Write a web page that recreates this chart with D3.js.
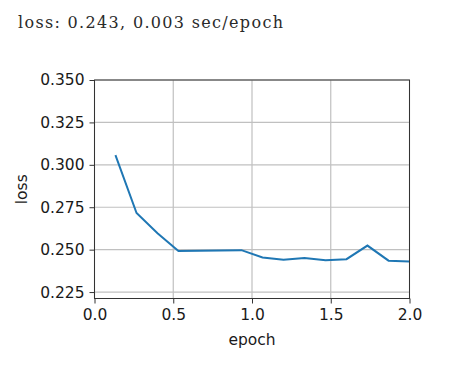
<!DOCTYPE html>
<html>
  <head>
    <script src="https://d3js.org/d3.v7.min.js"></script>
    <style>
      body { margin: 0; background: #fff; }
    </style>
  </head>
  <body>
    <svg width="476" height="370"></svg>
    <script>
      const epochs = [0.133, 0.267, 0.4, 0.533, 0.667, 0.8, 0.933, 1.067, 1.2, 1.333, 1.467, 1.6, 1.733, 1.867, 2.0];
      const losses = [0.3057, 0.2716, 0.2597, 0.2492, 0.2494, 0.2495, 0.2497, 0.2454, 0.2440, 0.2450, 0.2437, 0.2444, 0.2524, 0.2435, 0.2430];
      const xTicks = [0.0, 0.5, 1.0, 1.5, 2.0];
      const yTicks = [0.225, 0.250, 0.275, 0.300, 0.325, 0.350];
      const title = "loss: 0.243, 0.003 sec/epoch";

      const svg = d3.select("svg");
      const mLeft = 94.5, mRight = 409.5, mTop = 80, mBottom = 298.5;

      const x = d3.scaleLinear().domain([0, 2]).range([mLeft, mRight]);
      const y = d3.scaleLinear().domain([0.2212, 0.350]).range([mBottom, mTop]);

      svg.append("text")
        .attr("x", 18).attr("y", 28)
        .attr("font-family", "DejaVu Serif, serif")
        .attr("font-size", 16)
        .attr("fill", "#2a2a2a")
        .attr("textLength", 265)
        .attr("lengthAdjust", "spacing")
        .text(title);

      // grid
      svg.append("g").selectAll("line").data(xTicks).join("line")
        .attr("x1", d => x(d)).attr("x2", d => x(d))
        .attr("y1", mTop).attr("y2", mBottom)
        .attr("stroke", "#c0c0c0").attr("stroke-width", 1.2);
      svg.append("g").selectAll("line").data(yTicks).join("line")
        .attr("x1", mLeft).attr("x2", mRight)
        .attr("y1", d => y(d)).attr("y2", d => y(d))
        .attr("stroke", "#c0c0c0").attr("stroke-width", 1.2);

      // line
      const line = d3.line().x((d, i) => x(epochs[i])).y(d => y(d));
      svg.append("path").datum(losses)
        .attr("d", line)
        .attr("fill", "none")
        .attr("stroke", "#1f77b4")
        .attr("stroke-width", 2);

      // frame
      svg.append("rect")
        .attr("x", mLeft).attr("y", mTop)
        .attr("width", mRight - mLeft).attr("height", mBottom - mTop)
        .attr("fill", "none").attr("stroke", "#333").attr("stroke-width", 1);

      const fontFam = "DejaVu Sans, sans-serif";
      const xAxis = svg.append("g")
        .attr("transform", `translate(0,${mBottom})`)
        .call(d3.axisBottom(x).tickValues(xTicks).tickFormat(d3.format(".1f")).tickSize(5).tickPadding(5));
      const yAxis = svg.append("g")
        .attr("transform", `translate(${mLeft},0)`)
        .call(d3.axisLeft(y).tickValues(yTicks).tickFormat(d3.format(".3f")).tickSize(5).tickPadding(5));
      [xAxis, yAxis].forEach(g => {
        g.select(".domain").remove();
        g.selectAll("line").attr("stroke", "#333");
        g.selectAll("text").attr("font-family", fontFam).attr("font-size", 15.5).attr("fill", "#1a1a1a");
      });

      svg.append("text")
        .attr("x", (mLeft + mRight) / 2).attr("y", 345)
        .attr("text-anchor", "middle")
        .attr("font-family", fontFam).attr("font-size", 15.5).attr("fill", "#1a1a1a")
        .text("epoch");
      svg.append("text")
        .attr("transform", `translate(27,${(mTop + mBottom) / 2}) rotate(-90)`)
        .attr("text-anchor", "middle")
        .attr("font-family", fontFam).attr("font-size", 15.5).attr("fill", "#1a1a1a")
        .text("loss");
    </script>
  </body>
</html>
